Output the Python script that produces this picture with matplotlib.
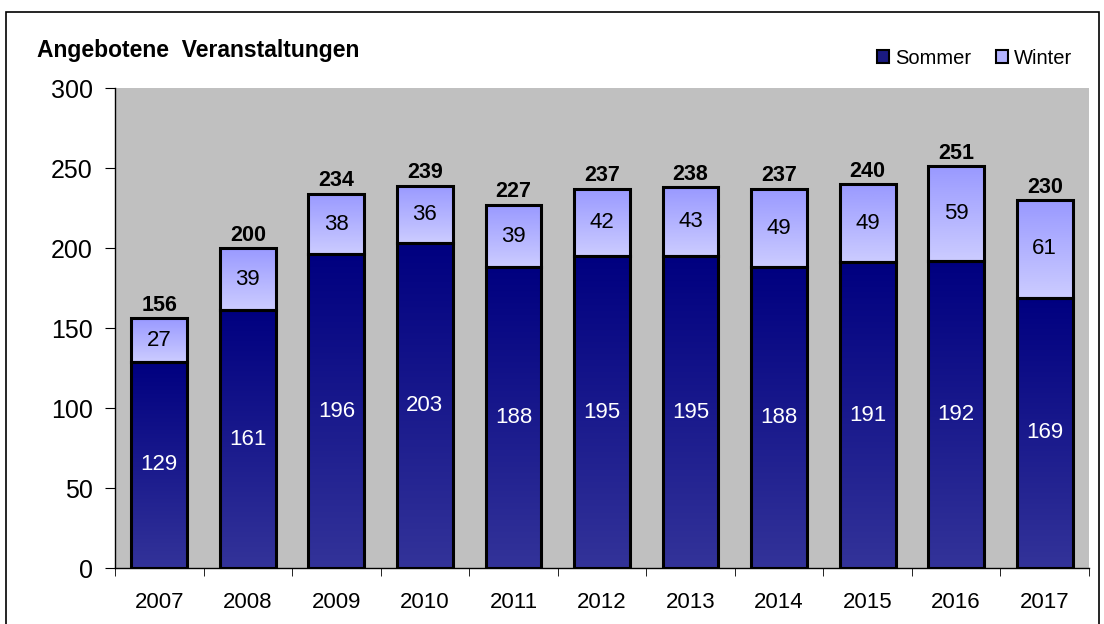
import numpy as np
import matplotlib.pyplot as plt
from matplotlib.colors import LinearSegmentedColormap
from matplotlib.patches import Rectangle, Patch

years = ['2007', '2008', '2009', '2010', '2011', '2012', '2013', '2014', '2015', '2016', '2017']
sommer = [129, 161, 196, 203, 188, 195, 195, 188, 191, 192, 169]
winter = [27, 39, 38, 36, 39, 42, 43, 49, 49, 59, 61]
totals = [156, 200, 234, 239, 227, 237, 238, 237, 240, 251, 230]

plt.rcParams['font.family'] = ['Liberation Sans', 'DejaVu Sans']

fig = plt.figure(figsize=(11.04, 6.24), dpi=100)
# outer frame
fig.patches.append(Rectangle((6 / 1104, -0.1), 1093 / 1104, 1.1 - 12 / 624, transform=fig.transFigure,
                             fill=False, edgecolor='black', linewidth=1.2))

ax = fig.add_axes([115 / 1104, 56 / 624, 974 / 1104, 480 / 624])
ax.set_facecolor('#c0c0c0')

x = np.arange(len(years))
w = 0.63
bars_s = ax.bar(x, sommer, w, color='none', edgecolor='black', linewidth=2.2, zorder=3)
bars_w = ax.bar(x, winter, w, bottom=sommer, color='none', edgecolor='black', linewidth=2.2, zorder=3)

# gradient fills clipped to each bar
cmap_s = LinearSegmentedColormap.from_list('s', ['#333399', '#000080'])
cmap_w = LinearSegmentedColormap.from_list('w', ['#ccccff', '#9999ff'])
grad = np.linspace(0, 1, 256).reshape(-1, 1)
for bars, cmap in [(bars_s, cmap_s), (bars_w, cmap_w)]:
    for p in bars:
        x0, y0 = p.get_x(), p.get_y()
        im = ax.imshow(grad, cmap=cmap, aspect='auto', origin='lower',
                       extent=(x0, x0 + p.get_width(), y0, y0 + p.get_height()), zorder=2)
        im.set_clip_path(p)

for i in range(len(years)):
    ax.text(x[i], sommer[i] / 2, str(sommer[i]), ha='center', va='center', color='white', fontsize=16, zorder=4)
    ax.text(x[i], sommer[i] + winter[i] / 2, str(winter[i]), ha='center', va='center', color='black', fontsize=16, zorder=4)
    ax.text(x[i], totals[i] + 1.5, str(totals[i]), ha='center', va='bottom', color='black', fontsize=15.5,
            fontweight='bold', zorder=4)

ax.set_xlim(-0.5, len(years) - 0.5)
ax.set_ylim(0, 300)
ax.set_yticks([0, 50, 100, 150, 200, 250, 300])
ax.set_xticks(x)
ax.set_xticklabels(years)
ax.set_xticks(np.arange(-0.5, len(years), 1), minor=True)
ax.tick_params(axis='x', which='major', length=0, labelsize=16, pad=17)
ax.tick_params(axis='x', which='minor', length=6, direction='out')
ax.tick_params(axis='y', length=7, direction='out', labelsize=18, pad=9)
for s in ['top', 'right']:
    ax.spines[s].set_visible(False)
ax.spines['left'].set_linewidth(1)
ax.spines['bottom'].set_linewidth(1)

fig.text(37 / 1104, 1 - 50 / 624, 'Angebotene  Veranstaltungen', fontsize=16.5, fontweight='bold',
         ha='left', va='center')

handles = [Patch(facecolor='#1a1a80', edgecolor='black', linewidth=1.5, label='Sommer'),
           Patch(facecolor='#b3b3ff', edgecolor='black', linewidth=1.5, label='Winter')]
fig.legend(handles=handles, loc='center right', bbox_to_anchor=(1082 / 1104, 1 - 58 / 624), ncol=2,
           frameon=False, fontsize=14.5, handlelength=0.6, handleheight=0.6, handletextpad=0.3,
           columnspacing=1.2, borderpad=0)

fig.savefig('out.png', dpi=100)
